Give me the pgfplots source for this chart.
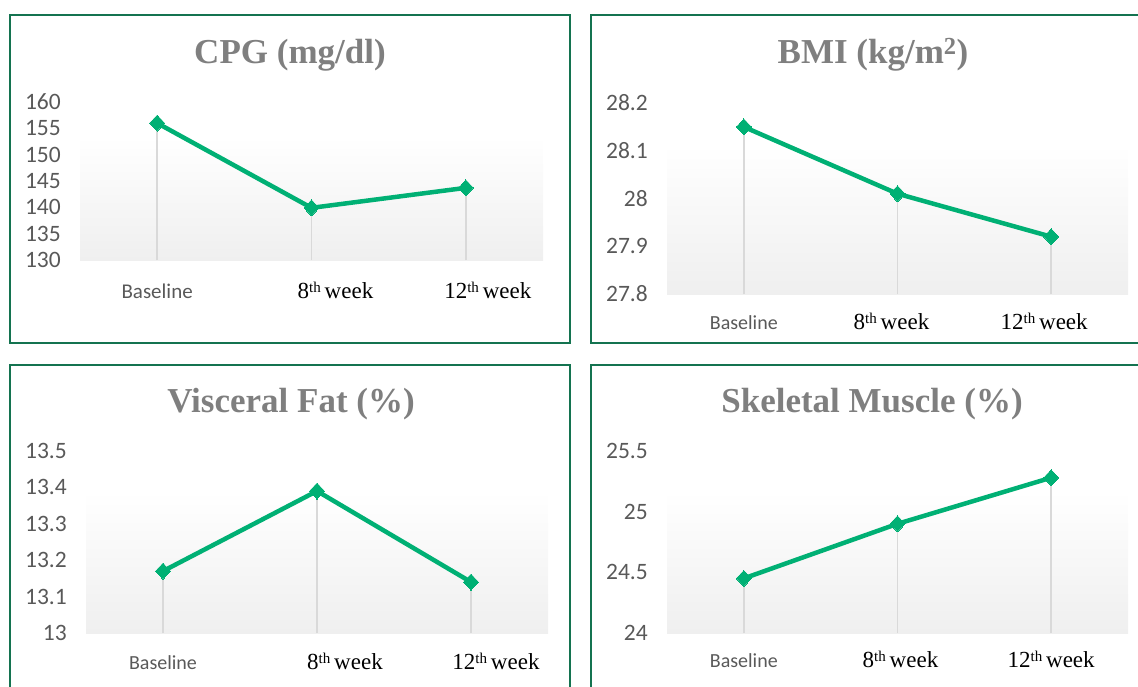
\documentclass[border=0pt]{standalone}
\usepackage{pgfplots}
\pgfplotsset{compat=1.18}
\usepackage{fontspec}
\setmainfont{Liberation Serif}
\newfontfamily\calibri{Carlito}
\definecolor{linegreen}{RGB}{0,176,116}
\definecolor{framegreen}{RGB}{20,115,80}
\definecolor{titlegray}{RGB}{127,127,127}
\definecolor{ticktext}{RGB}{89,89,89}
\definecolor{dropgray}{RGB}{217,217,217}
\definecolor{bggray}{RGB}{239,239,239}

\pgfplotsset{
  panel/.style={
    scale only axis, anchor=south west,
    xmin=-0.5, xmax=2.5, xtick={0,1,2},
    axis lines*=left,
    y axis line style={draw=none},
    x axis line style={dropgray, line width=2pt},
    tick style={draw=none},
    major tick length=0pt,
    clip=false,
    /pgf/number format/assume math mode=true,
    /pgf/number format/fixed,
    /pgf/number format/precision=1,
    yticklabel style={font=\calibri\fontsize{23.5}{24}\selectfont, text=ticktext, anchor=east, inner sep=0pt, xshift=-19pt},
    xticklabel style={font=\fontsize{23}{24}\selectfont, text=black, anchor=base, inner sep=0pt},
  },
  gline/.style={linegreen, line width=4.5pt, mark=diamond*, mark size=8pt, mark options={fill=linegreen, draw=linegreen, line width=0pt, xscale=1.25}},
}
\newcommand{\wk}[1]{#1\raisebox{0.5ex}{\fontsize{15}{15}\selectfont th}\,week}
\newcommand{\bgshade}{\fill[top color=white, bottom color=bggray] (rel axis cs:0,0) rectangle (rel axis cs:1,0.78);}
\newcommand{\ttl}[1]{{\fontsize{35}{40}\selectfont\bfseries\color{titlegray}#1}}

\begin{document}
\begin{tikzpicture}
\path[use as bounding box] (0pt,0pt) rectangle (1138pt,-687pt);
\clip (0pt,0pt) rectangle (1138pt,-687pt);

% frames
\draw[framegreen, line width=2.5pt] (10pt,-15pt) rectangle (570pt,-343pt);
\draw[framegreen, line width=2.5pt] (591pt,-15pt) rectangle (1160pt,-343pt);
\draw[framegreen, line width=2.5pt] (10pt,-365pt) rectangle (570pt,-710pt);
\draw[framegreen, line width=2.5pt] (591pt,-365pt) rectangle (1160pt,-710pt);

% titles
\node at (290pt,-55pt) {\ttl{CPG (mg/dl)}};
\node at (873pt,-55pt) {\ttl{BMI (kg/m\textsuperscript{2})}};
\node at (291pt,-404pt) {\ttl{Visceral Fat (\%)}};
\node at (872pt,-404pt) {\ttl{Skeletal Muscle (\%)}};

% Panel 1: CPG
\begin{axis}[panel, at={(80pt,-260pt)}, width=463pt, height=158pt,
  ymin=130, ymax=160, ytick={130,135,...,160},
  xticklabels={{\calibri\fontsize{21}{21}\selectfont\color{ticktext}Baseline},{\hspace*{48pt}\wk{8}},{\hspace*{44pt}\wk{12}}},
  xticklabel style={yshift=-38pt}]
\bgshade
\addplot[ycomb, dropgray, line width=1.5pt, no marks] coordinates {(0,156) (1,139.9) (2,143.7)};
\addplot[gline] coordinates {(0,156) (1,139.9) (2,143.7)};
\end{axis}

% Panel 2: BMI
\begin{axis}[panel, at={(667pt,-294pt)}, width=461pt, height=191pt,
  ymin=27.8, ymax=28.2, ytick={27.8,27.9,28,28.1,28.2},
  xticklabels={{\calibri\fontsize{20}{20}\selectfont\color{ticktext}Baseline},{\wk{8}\hspace*{12pt}},{\wk{12}\hspace*{14pt}}},
  xticklabel style={yshift=-35pt}]
\bgshade
\addplot[ycomb, dropgray, line width=1.5pt, no marks] coordinates {(0,28.15) (1,28.01) (2,27.92)};
\addplot[gline] coordinates {(0,28.15) (1,28.01) (2,27.92)};
\end{axis}

% Panel 3: Visceral Fat
\begin{axis}[panel, at={(86pt,-633pt)}, width=462pt, height=182pt,
  ymin=13, ymax=13.5, ytick={13,13.1,13.2,13.3,13.4,13.5},
  xticklabels={{\calibri\fontsize{20}{20}\selectfont\color{ticktext}Baseline},{\hspace*{56pt}\wk{8}},{\hspace*{50pt}\wk{12}}},
  xticklabel style={yshift=-36pt}]
\bgshade
\addplot[ycomb, dropgray, line width=1.5pt, no marks] coordinates {(0,13.17) (1,13.39) (2,13.14)};
\addplot[gline] coordinates {(0,13.17) (1,13.39) (2,13.14)};
\end{axis}

% Panel 4: Skeletal Muscle
\begin{axis}[panel, at={(667pt,-633pt)}, width=461pt, height=182pt,
  ymin=24, ymax=25.5, ytick={24,24.5,25,25.5},
  xticklabels={{\calibri\fontsize{20}{20}\selectfont\color{ticktext}Baseline},{\hspace*{6pt}\wk{8}},{\wk{12}}},
  xticklabel style={yshift=-34pt}]
\bgshade
\addplot[ycomb, dropgray, line width=1.5pt, no marks] coordinates {(0,24.45) (1,24.90) (2,25.28)};
\addplot[gline] coordinates {(0,24.45) (1,24.90) (2,25.28)};
\end{axis}
\end{tikzpicture}
\end{document}
